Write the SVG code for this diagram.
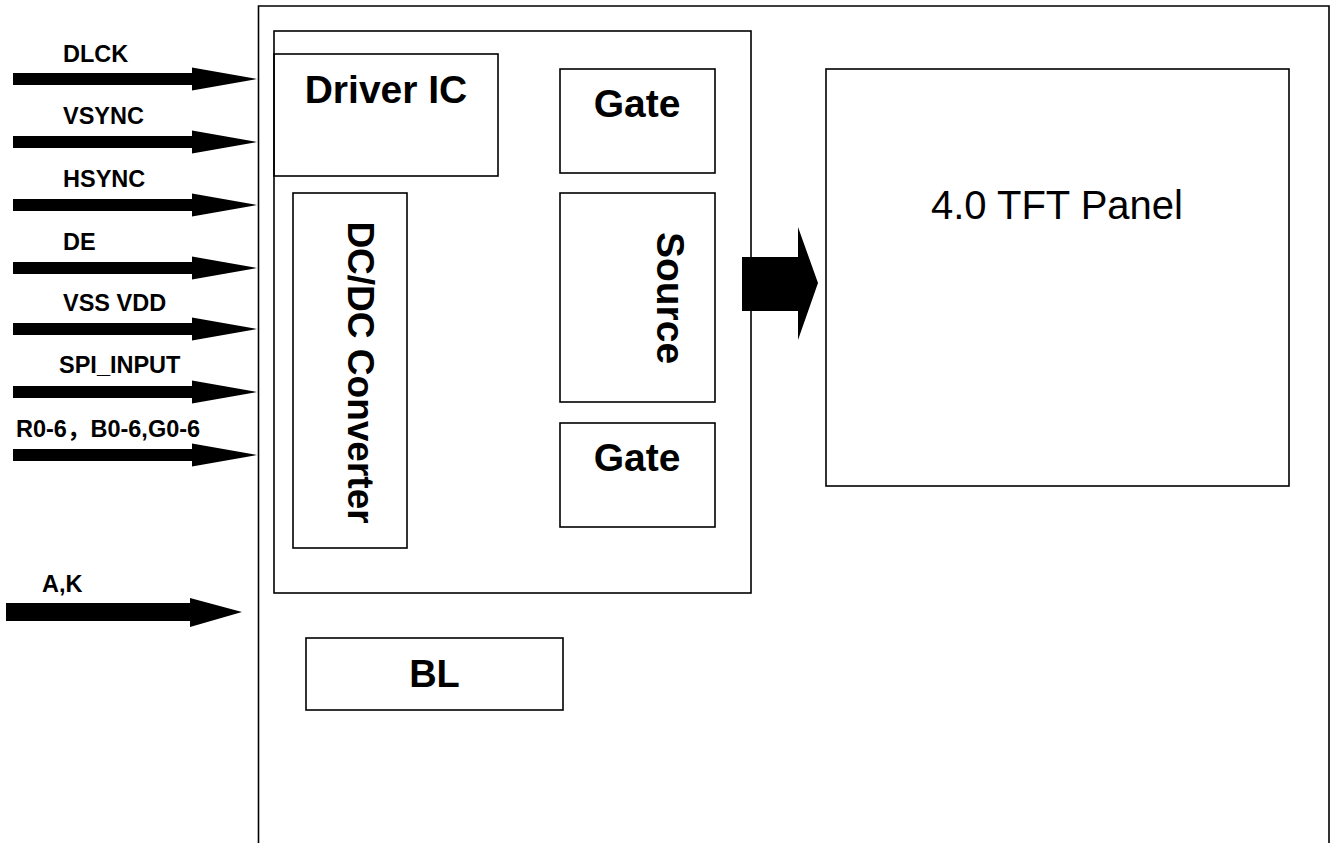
<svg xmlns="http://www.w3.org/2000/svg" width="1333" height="843" viewBox="0 0 1333 843">
<style>
.box{fill:none;stroke:#000;stroke-width:1.6}
.lbl{font-family:"Liberation Sans",Arial,"Noto Sans CJK SC",sans-serif;font-weight:bold;font-size:23.5px;fill:#000}
.big{font-family:"Liberation Sans",Arial,sans-serif;font-weight:bold;font-size:39px;fill:#000}
.reg{font-family:"Liberation Sans",Arial,sans-serif;font-size:40px;fill:#000}
.arr{fill:#000;stroke:none}
</style>
<rect width="1333" height="843" fill="#fff"/>
<g id="module">
<path class="box" d="M258.5,843 V6 H1329 V843"/>
</g>
<g id="inner">
<rect class="box" x="274" y="31" width="477" height="562"/>
</g>
<g id="driver-ic">
<rect class="box" x="274" y="54" width="224" height="122"/>
<text class="big" x="386" y="103" text-anchor="middle">Driver IC</text>
</g>
<g id="gate-top">
<rect class="box" x="560" y="69" width="155" height="104"/>
<text class="big" x="637" y="117" text-anchor="middle">Gate</text>
</g>
<g id="source">
<rect class="box" x="560" y="193" width="155" height="209"/>
<text class="big" text-anchor="middle" transform="translate(657,298) rotate(90)">Source</text>
</g>
<g id="gate-bottom">
<rect class="box" x="560" y="423" width="155" height="104"/>
<text class="big" x="637" y="471" text-anchor="middle">Gate</text>
</g>
<g id="dcdc">
<rect class="box" x="293" y="193" width="114" height="355"/>
<text class="big" style="font-size:37px" text-anchor="middle" transform="translate(348,372.5) rotate(90)">DC/DC Converter</text>
</g>
<g id="bl">
<rect class="box" x="306" y="638" width="257" height="72"/>
<text class="big" style="font-size:38px" x="434.5" y="687" text-anchor="middle">BL</text>
</g>
<g id="tft-panel">
<rect class="box" x="826" y="69" width="463" height="417"/>
<text class="reg" x="1057" y="219" text-anchor="middle">4.0 TFT Panel</text>
</g>
<g id="connectors">
<polygon class="arr" points="742,257 798,257 798,227 818,283 798,340 798,311 742,311"/>
<polygon class="arr" points="13,73 192,73 192,67.5 257,79 192,90.5 192,85 13,85"/>
<polygon class="arr" points="13,136 192,136 192,130.5 257,142 192,153.5 192,148 13,148"/>
<polygon class="arr" points="13,199 192,199 192,193.5 257,205 192,216.5 192,211 13,211"/>
<polygon class="arr" points="13,262 192,262 192,256.5 257,268 192,279.5 192,274 13,274"/>
<polygon class="arr" points="13,323 192,323 192,317.5 257,329 192,340.5 192,335 13,335"/>
<polygon class="arr" points="13,386 192,386 192,380.5 257,392 192,403.5 192,398 13,398"/>
<polygon class="arr" points="13,449 192,449 192,443.5 257,455 192,466.5 192,461 13,461"/>
<polygon class="arr" points="6,603 190,603 190,598 242,612 190,627 190,621 6,621"/>
<text class="lbl" x="63" y="62">DLCK</text>
<text class="lbl" x="63" y="124">VSYNC</text>
<text class="lbl" x="63" y="187">HSYNC</text>
<text class="lbl" x="63" y="250">DE</text>
<text class="lbl" x="63" y="311">VSS VDD</text>
<text class="lbl" x="59" y="373">SPI_INPUT</text>
<text class="lbl" x="16" y="437">R0-6，B0-6,G0-6</text>
<text class="lbl" x="42" y="592">A,K</text>
</g>
</svg>
